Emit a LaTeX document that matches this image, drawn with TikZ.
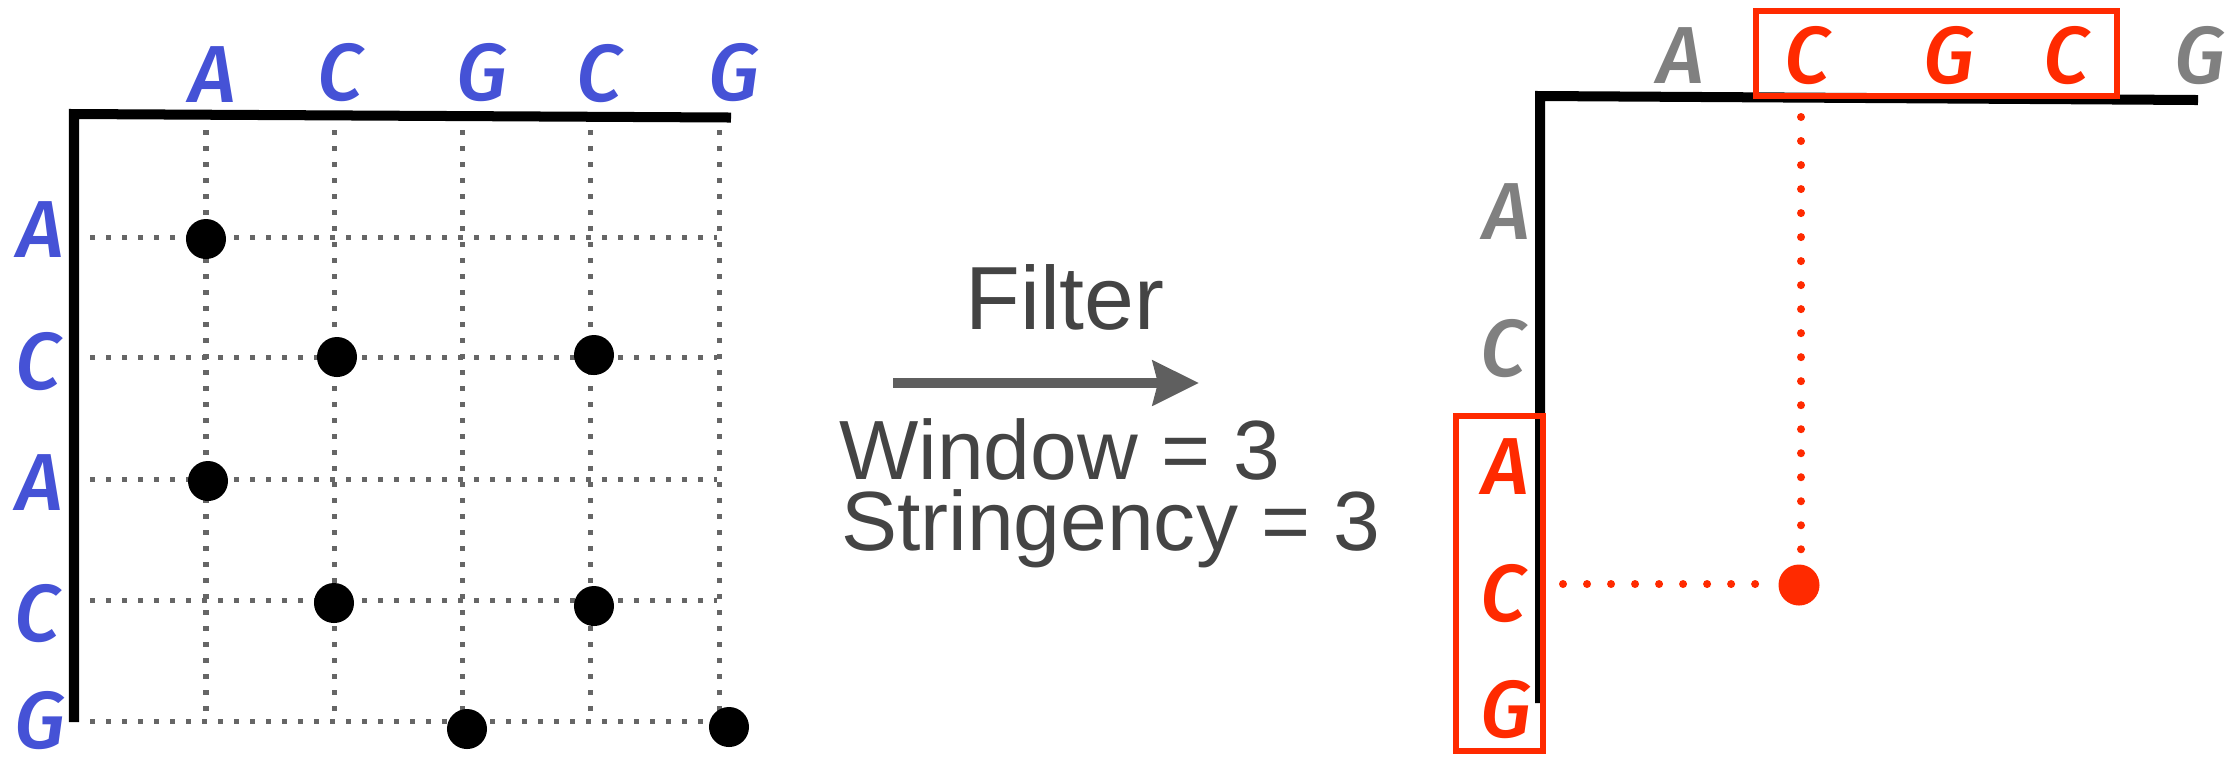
\documentclass[tikz,border=0pt]{standalone}
\usepackage{fontspec}
\setmainfont{Liberation Sans}
\newfontfamily\handfont{Fira Sans Medium}[ItalicFont={Fira Sans Medium Italic}]
\usetikzlibrary{arrows.meta}
\definecolor{seqblue}{HTML}{4552D6}
\definecolor{hired}{HTML}{FF2A00}
\definecolor{labgray}{HTML}{808080}
\definecolor{txtgray}{HTML}{444444}
\definecolor{arrgray}{HTML}{5F5F5F}
\definecolor{gridgray}{HTML}{666666}
\begin{document}
\begin{tikzpicture}[x=0.01cm,y=-0.01cm,
  base/.style={inner sep=0pt, outer sep=0pt},
  seq/.style={base, font=\handfont\itshape\fontsize{23pt}{23pt}\selectfont},
  bseq/.style={seq, text=seqblue},
  gseq/.style={seq, text=labgray},
  rseq/.style={seq, text=hired},
  axisline/.style={line width=0.1cm, black, line join=miter},
  gridline/.style={gridgray, line width=0.05cm, dash pattern=on 0.05cm off 0.11cm},
  rdots/.style={hired, line width=0.08cm, line cap=round, dash pattern=on 0pt off 0.24cm},
  hit/.style={base, circle, fill=black, minimum size=0.4cm},
  rhit/.style={base, circle, fill=hired, minimum size=0.41cm},
  hbox/.style={draw=hired, line width=0.055cm, inner sep=0pt, outer sep=0pt},
  txt/.style={base, text=txtgray},
]
\useasboundingbox (0,0) rectangle (2229,756);

% ---------- left panel ----------
\foreach \x in {206,334,462,590,719}
  \draw[gridline] (\x,130) -- (\x,721);
\foreach \y in {237,357,479,600,721}
  \draw[gridline] (90,\y) -- (717,\y);
\draw[axisline] (74,722) -- (74,114) -- (731,117.5);

\node[hit] (d1) at (206,239) {};
\node[hit] (d2) at (337,357) {};
\node[hit] (d3) at (594,355) {};
\node[hit] (d4) at (208,481) {};
\node[hit] (d5) at (334,603) {};
\node[hit] (d6) at (594,606) {};
\node[hit] (d7) at (467,729) {};
\node[hit] (d8) at (729,727) {};

\node[bseq] (t1) at (213,75) {A};
\node[bseq] (t2) at (340,73) {C};
\node[bseq] (t3) at (482,73) {G};
\node[bseq] (t4) at (599,74) {C};
\node[bseq] (t5) at (734,73) {G};
\node[bseq] (l1) at (41,230) {A};
\node[bseq] (l2) at (38,362) {C};
\node[bseq] (l3) at (40,483) {A};
\node[bseq] (l4) at (37,614) {C};
\node[bseq] (l5) at (40,721) {G};

% ---------- middle ----------
\coordinate (a1) at (893,383);
\coordinate (a2) at (1199,383);
\draw[arrgray, line width=0.1cm, -{Stealth[length=0.46cm,width=0.44cm,inset=0.05cm]}] (a1) -- (a2);
\node[txt, anchor=base, font=\fontsize{25.5pt}{25.5pt}\selectfont] (filter) at (1065,329) {Filter};
\node[txt, anchor=base west, font=\fontsize{23.9pt}{23.9pt}\selectfont] (win) at (839,479) {Window = 3};
\node[txt, anchor=base west, font=\fontsize{23.9pt}{23.9pt}\selectfont] (str) at (841,550) {Stringency = 3};

% ---------- right panel ----------
\draw[axisline] (1540,703) -- (1540,96) -- (2198,100);

\node[gseq] (u1) at (1681,56) {A};
\node[rseq] (u2) at (1807,56) {C};
\node[rseq] (u3) at (1949,56) {G};
\node[rseq] (u4) at (2066,56) {C};
\node[gseq] (u5) at (2200,56) {G};
\node[gseq] (v1) at (1507,212) {A};
\node[gseq] (v2) at (1503,349) {C};
\node[rseq] (v3) at (1506,467) {A};
\node[rseq] (v4) at (1503,594) {C};
\node[rseq] (v5) at (1506,710) {G};

\node[hbox, minimum width=3.61cm, minimum height=0.85cm] (topbox) at (1936.5,53.5) {};
\node[hbox, minimum width=0.87cm, minimum height=3.35cm] (leftbox) at (1499.5,583.5) {};

\node[rhit] (hit) at (1799,585) {};
\coordinate (vs) at (1801,117);
\coordinate (ve) at (1801,552);
\coordinate (hs) at (1563,584);
\coordinate (he) at (1757,584);
\draw[rdots] (vs) -- (ve);
\draw[rdots] (hs) -- (he);
\end{tikzpicture}
\end{document}
